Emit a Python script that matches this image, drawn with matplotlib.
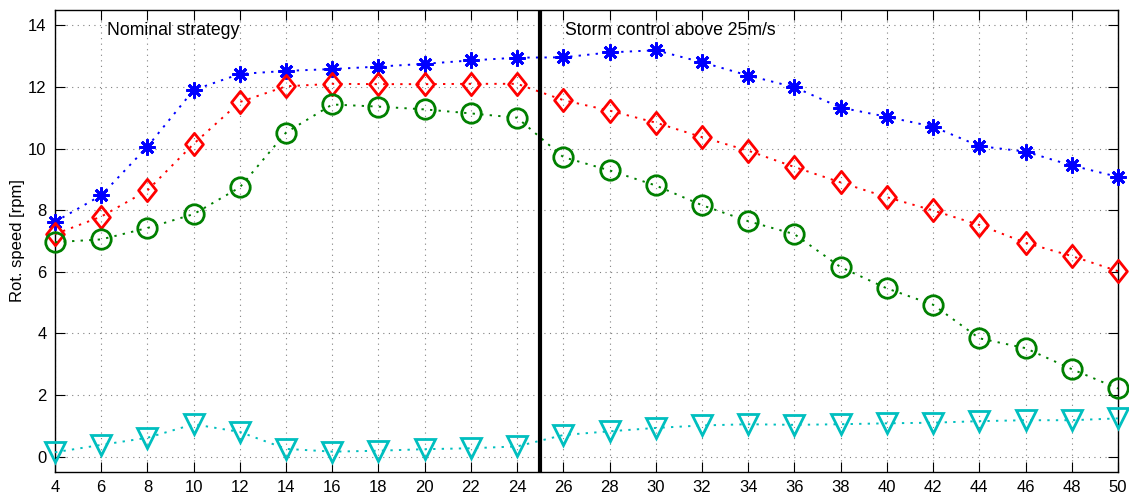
import matplotlib
matplotlib.use("Agg")
import matplotlib.pyplot as plt
from matplotlib.path import Path

plt.rcParams['font.family'] = ['Liberation Sans', 'DejaVu Sans']

wind_speed = list(range(4, 51, 2))

rot_blue = [7.62, 8.48, 10.06, 11.9, 12.42, 12.52, 12.58, 12.66, 12.75, 12.86, 12.95,
            12.96, 13.12, 13.19, 12.8, 12.37, 11.99, 11.33, 11.03, 10.71, 10.08, 9.9,
            9.45, 9.08]
rot_red = [7.22, 7.79, 8.64, 10.15, 11.51, 12.02, 12.1, 12.09, 12.09, 12.1, 12.1,
           11.57, 11.23, 10.84, 10.37, 9.93, 9.4, 8.9, 8.42, 7.99, 7.52, 6.94,
           6.51, 6.02]
rot_green = [6.96, 7.05, 7.42, 7.87, 8.74, 10.52, 11.43, 11.36, 11.27, 11.14, 11.0,
             9.72, 9.29, 8.8, 8.16, 7.64, 7.22, 6.15, 5.46, 4.93, 3.84, 3.52,
             2.84, 2.21]
rot_cyan = [0.14, 0.38, 0.61, 1.05, 0.8, 0.25, 0.16, 0.19, 0.24, 0.27, 0.33,
            0.7, 0.82, 0.93, 1.01, 1.05, 1.03, 1.05, 1.08, 1.1, 1.15, 1.18,
            1.18, 1.24]

storm_limit = 25
x_ticks = list(range(4, 51, 2))
y_ticks = [0, 2, 4, 6, 8, 10, 12, 14]

# tall diamond, like MATLAB's 'd'
tall_diamond = Path([(0, 1), (0.8, 0), (0, -1), (-0.8, 0), (0, 1)],
                    [Path.MOVETO, Path.LINETO, Path.LINETO, Path.LINETO, Path.CLOSEPOLY])

fig = plt.figure(figsize=(11.29, 4.95), dpi=100)
ax = fig.add_axes([0.0487, 0.0465, 0.9415, 0.9335])

series = [
    (rot_blue, '#0000ff', (8, 2, 0), 11.5, 2.0),
    (rot_red, '#ff0000', tall_diamond, 16, 2.0),
    (rot_green, '#008000', 'o', 14, 2.0),
    (rot_cyan, '#00bfbf', 'v', 14.5, 2.0),
]
for vals, col, m, ms, mew in series:
    ax.plot(wind_speed, vals, linestyle=(0, (1.2, 3.2)), linewidth=1.4, color=col,
            marker=m, markersize=ms, markerfacecolor='none',
            markeredgecolor=col, markeredgewidth=mew, zorder=3, clip_on=False)

ax.axvline(storm_limit, color='black', linewidth=3, zorder=4)

ax.text(6.25, 13.82, 'Nominal strategy', fontsize=12.7, va='center', ha='left')
ax.text(26.05, 13.82, 'Storm control above 25m/s', fontsize=12.7, va='center', ha='left')

ax.set_xlim(4, 50)
ax.set_ylim(-0.5, 14.5)
ax.set_xticks(x_ticks)
ax.set_yticks(y_ticks)
ax.tick_params(direction='in', top=True, right=True, length=7, width=0.8,
               labelsize=12, pad=6)
ax.grid(True, linestyle=(0, (1, 4)), color='#808080', linewidth=0.8)
ax.set_axisbelow(True)
for s in ax.spines.values():
    s.set_linewidth(1.0)
ax.set_ylabel('Rot. speed [rpm]', fontsize=12, labelpad=2)

fig.savefig('out.png', dpi=100)
